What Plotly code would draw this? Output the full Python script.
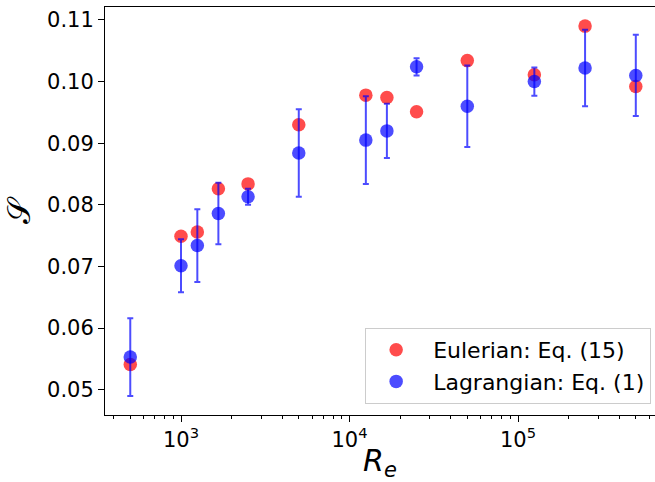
import plotly.graph_objects as go
import numpy as np

re_vals = [500, 1000, 1250, 1666.7, 2500, 5000, 12500, 16666.7, 25000, 50000, 125000, 250000, 500000]
eulerian = [0.0541, 0.0749, 0.0756, 0.0826, 0.0834, 0.0930, 0.0978, 0.0974, 0.0951, 0.1034, 0.1011, 0.1090, 0.0992]
lagrangian = [0.0553, 0.0701, 0.0734, 0.0786, 0.0813, 0.0884, 0.0905, 0.0920, 0.1024, 0.0960, 0.1000, 0.1022, 0.1010]
lag_err = [0.0063, 0.0043, 0.0059, 0.0050, 0.0013, 0.0071, 0.0071, 0.0044, 0.0014, 0.0066, 0.0023, 0.0062, 0.0066]
y_ticks = [0.05, 0.06, 0.07, 0.08, 0.09, 0.10, 0.11]
x_ticks = [1e3, 1e4, 1e5]
x_ticktext = ["10<sup>3</sup>", "10<sup>4</sup>", "10<sup>5</sup>"]

minor_vals = [m * 10 ** e for e in range(2, 6) for m in range(2, 10)]

fig = go.Figure()
fig.add_trace(go.Scatter(
    x=re_vals, y=eulerian, mode="markers", name="\u00a0Eulerian: Eq. (15)",
    marker=dict(color="red", size=13.5, opacity=0.7, line=dict(width=0)),
))
fig.add_trace(go.Scatter(
    x=re_vals, y=lagrangian, mode="markers", name="\u00a0Lagrangian: Eq. (1)",
    marker=dict(color="blue", size=13.5, opacity=0.7, line=dict(width=0)),
    error_y=dict(type="data", array=lag_err, color="rgba(0,0,255,0.7)", thickness=2, width=3),
))

font = dict(family="DejaVu Sans", size=21, color="black")
fig.update_layout(
    width=655, height=482,
    margin=dict(l=105, r=0, t=7, b=67, autoexpand=False),
    plot_bgcolor="white", paper_bgcolor="white",
    font=font,
    showlegend=True,
    legend=dict(
        x=0.993, y=0.027, xanchor="right", yanchor="bottom",
        bordercolor="#cccccc", borderwidth=1, bgcolor="rgba(255,255,255,0.8)",
        font=dict(family="DejaVu Sans", size=22, color="black"),
        itemwidth=50,
    ),
)
fig.update_xaxes(
    type="log", range=[np.log10(354), np.log10(650000)],
    tickvals=x_ticks, ticktext=x_ticktext,
    ticks="outside", ticklen=6, tickwidth=1, tickcolor="black",
    minor=dict(tickvals=minor_vals, ticks="outside", ticklen=3, tickwidth=1, tickcolor="black"),
    showline=True, linecolor="black", linewidth=1, mirror=True,
    showgrid=False, zeroline=False, automargin=False,
    title=dict(text="<i>R</i><sub><i>e</i></sub>", font=dict(size=30, family="DejaVu Sans"), standoff=4),
)
fig.update_yaxes(
    range=[0.0459, 0.1121],
    tickvals=y_ticks, tickformat=".2f",
    ticks="outside", ticklen=6, tickwidth=1, tickcolor="black",
    showline=True, linecolor="black", linewidth=1, mirror=False,
    showgrid=False, zeroline=False, automargin=False,
    title=dict(text="𝒮", font=dict(size=32, family="DejaVu Sans"), standoff=10),
)
fig.write_html("out.html", config={"displayModeBar": False},
               post_script="document.body.style.margin='0px';")
